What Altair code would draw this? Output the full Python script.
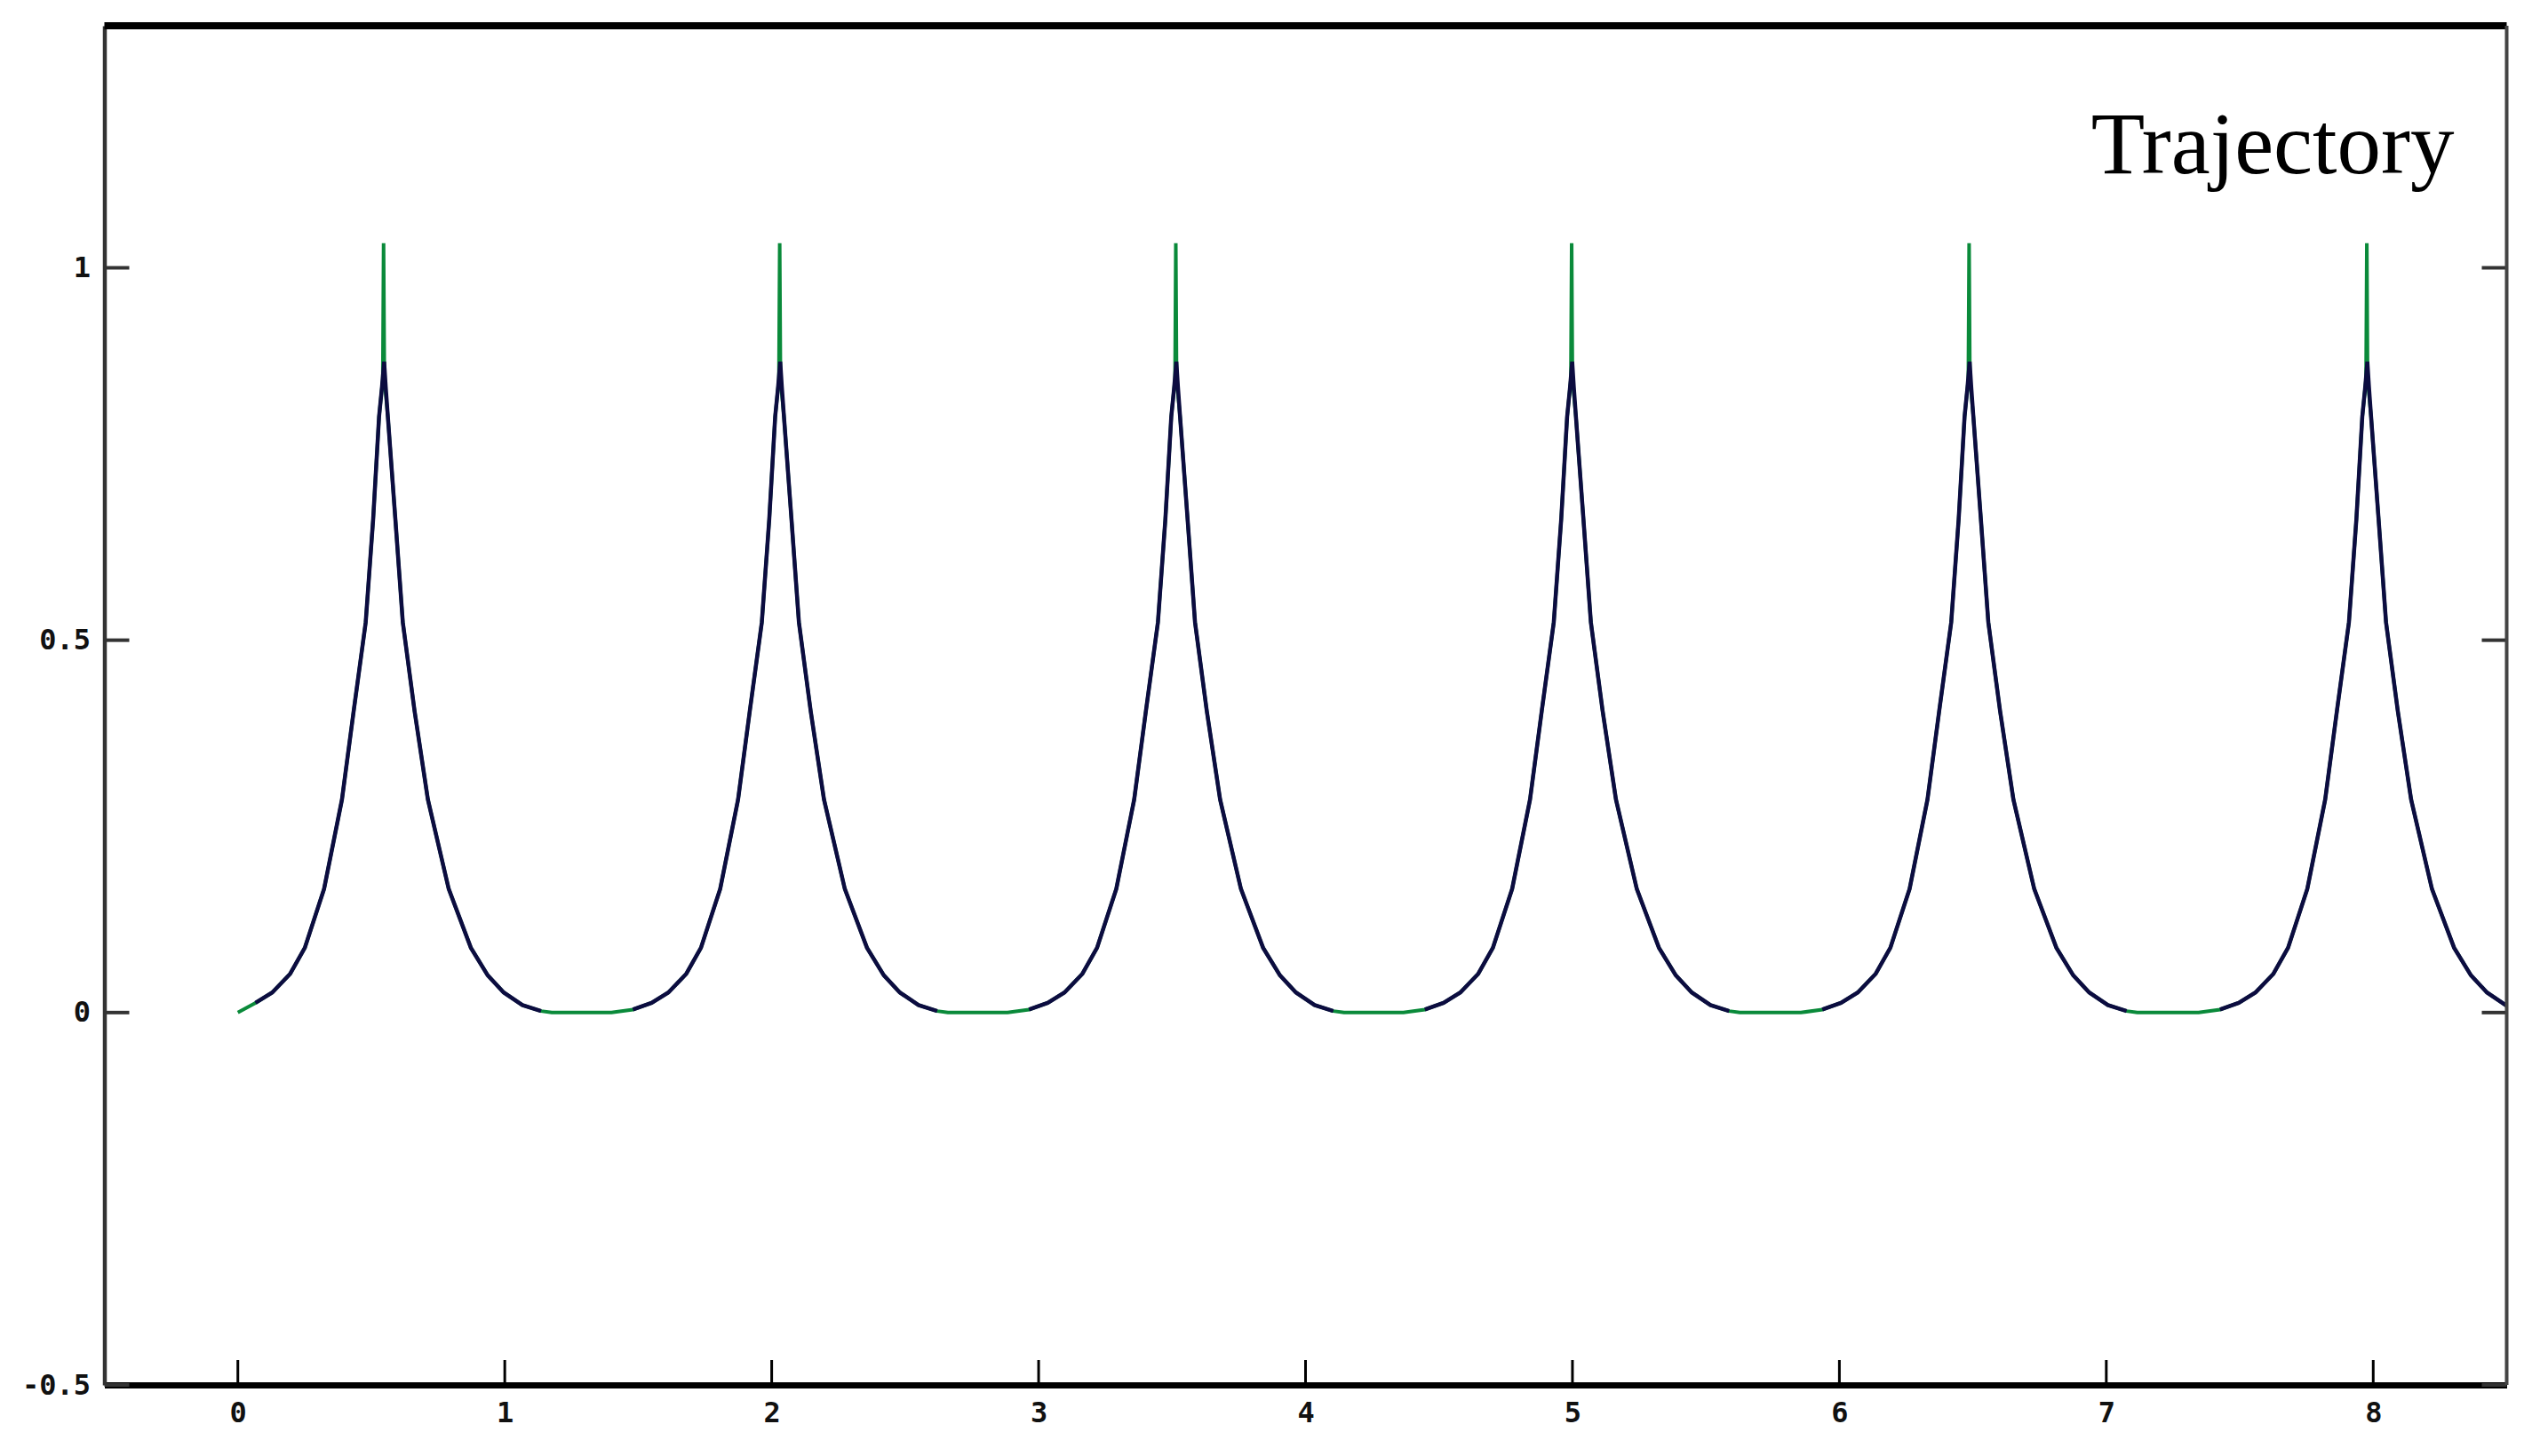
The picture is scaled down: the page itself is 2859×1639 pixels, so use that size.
import altair as alt
import pandas as pd

# ---- data ----
peak_x = [0.546, 2.030, 3.514, 4.997, 6.486, 7.976]

# pulse profile of the green trace (offset from peak, value)
green_dx = [-0.63, -0.55, -0.48, -0.417, -0.35, -0.295, -0.223, -0.156, -0.112,
            -0.067, -0.039, -0.017, -0.003, 0.0, 0.003, 0.016, 0.044, 0.072,
            0.116, 0.166, 0.244, 0.327, 0.39, 0.45, 0.52, 0.59, 0.63]
green_y = [0.0, 0.004, 0.013, 0.027, 0.052, 0.087, 0.166, 0.286, 0.405,
           0.524, 0.663, 0.80, 0.85, 1.033, 0.85, 0.80, 0.663, 0.524,
           0.405, 0.286, 0.166, 0.087, 0.05, 0.027, 0.01, 0.002, 0.0]

# pulse profile of the dark trace
navy_dx = [-0.55, -0.48, -0.417, -0.35, -0.295, -0.223, -0.156, -0.112,
           -0.067, -0.039, -0.017, -0.006, 0.002, 0.008, 0.016, 0.044, 0.072,
           0.116, 0.166, 0.244, 0.327, 0.39, 0.45, 0.52, 0.59]
navy_y = [0.004, 0.013, 0.027, 0.052, 0.087, 0.166, 0.286, 0.405,
          0.524, 0.663, 0.80, 0.84, 0.874, 0.84, 0.80, 0.663, 0.524,
          0.405, 0.286, 0.166, 0.087, 0.05, 0.027, 0.01, 0.002]

x_ticks = [0, 1, 2, 3, 4, 5, 6, 7, 8]
y_ticks = [-0.5, 0, 0.5, 1]
title_text = "Trajectory"

X_DOMAIN = [-0.5, 8.5]
Y_DOMAIN = [-0.5, 1.325]
W, H = 2704, 1530

# ---- tables ----
g_rows = [{"x": 0.0, "y": 0.0}]
for p in peak_x:
    for dx, yv in zip(green_dx, green_y):
        if p + dx > 0:
            g_rows.append({"x": p + dx, "y": yv})
green = pd.DataFrame(g_rows)
green["order"] = range(len(green))

n_rows = []
for i, p in enumerate(peak_x):
    for j, (dx, yv) in enumerate(zip(navy_dx, navy_y)):
        if p + dx >= 0:
            n_rows.append({"x": p + dx, "y": yv, "pulse": i, "order": j})
navy = pd.DataFrame(n_rows)

xs = alt.Scale(domain=X_DOMAIN, nice=False, zero=False)
ys = alt.Scale(domain=Y_DOMAIN, nice=False, zero=False)

LABEL_FONT = "DejaVu Sans Mono"

X_AXIS = alt.Axis(values=x_ticks, ticks=False, tickSize=0, grid=False, title=None,
                  domainColor="#000000", domainWidth=7,
                  labelFont=LABEL_FONT, labelFontSize=32, labelFontWeight="bold",
                  labelColor="#111111", labelPadding=16, format="d")
Y_AXIS = alt.Axis(values=y_ticks, ticks=False, tickSize=0, grid=False, title=None,
                  domainColor="#333333", domainWidth=4.5,
                  labelFont=LABEL_FONT, labelFontSize=32, labelFontWeight="bold",
                  labelColor="#111111", labelPadding=16,
                  labelExpr="toString(datum.value)")

green_line = alt.Chart(green).mark_line(color="#0a8a3a", strokeWidth=4, clip=True).encode(
    x=alt.X("x:Q", scale=xs, title=None, axis=X_AXIS),
    y=alt.Y("y:Q", scale=ys, title=None, axis=Y_AXIS),
    order="order:Q",
)

navy_line = alt.Chart(navy).mark_line(color="#0c0c40", strokeWidth=4.5, clip=True).encode(
    x=alt.X("x:Q", scale=xs, title=None, axis=X_AXIS),
    y=alt.Y("y:Q", scale=ys, title=None, axis=Y_AXIS),
    detail="pulse:N",
    order="order:Q",
)

xt = pd.DataFrame({"x": x_ticks})
yt = pd.DataFrame({"y": y_ticks})

x_tick_marks = alt.Chart(xt).mark_rule(color="#000000", strokeWidth=3).encode(
    x=alt.X("x:Q", scale=xs, title=None, axis=X_AXIS),
    y=alt.value(H), y2=alt.value(H - 28),
)
y_tick_left = alt.Chart(yt).mark_rule(color="#333333", strokeWidth=4).encode(
    y=alt.Y("y:Q", scale=ys, title=None, axis=Y_AXIS),
    x=alt.value(0), x2=alt.value(28),
)
y_tick_right = alt.Chart(yt).mark_rule(color="#333333", strokeWidth=4).encode(
    y=alt.Y("y:Q", scale=ys, title=None, axis=Y_AXIS),
    x=alt.value(W - 28), x2=alt.value(W),
)

top_border = alt.Chart(pd.DataFrame({"a": [0]})).mark_rule(color="#000000", strokeWidth=8).encode(
    x=alt.value(0), x2=alt.value(W), y=alt.value(0)
)
right_border = alt.Chart(pd.DataFrame({"a": [0]})).mark_rule(color="#444444", strokeWidth=4).encode(
    x=alt.value(W), y=alt.value(0), y2=alt.value(H)
)

title = alt.Chart(pd.DataFrame({"t": [title_text]})).mark_text(
    font="Liberation Serif", fontSize=99, align="right", baseline="alphabetic", color="#000000"
).encode(text="t:N", x=alt.value(2645), y=alt.value(166))

chart = alt.layer(
    green_line, navy_line, x_tick_marks, y_tick_left, y_tick_right,
    top_border, right_border, title
).properties(
    width=W, height=H,
    autosize=alt.AutoSizeParams(type="none"),
    padding={"left": 109.5, "top": 21, "right": 20, "bottom": 70},
    background="white",
).configure_view(stroke=None)

chart.save("out.html", embed_options={"renderer": "svg", "actions": False})
